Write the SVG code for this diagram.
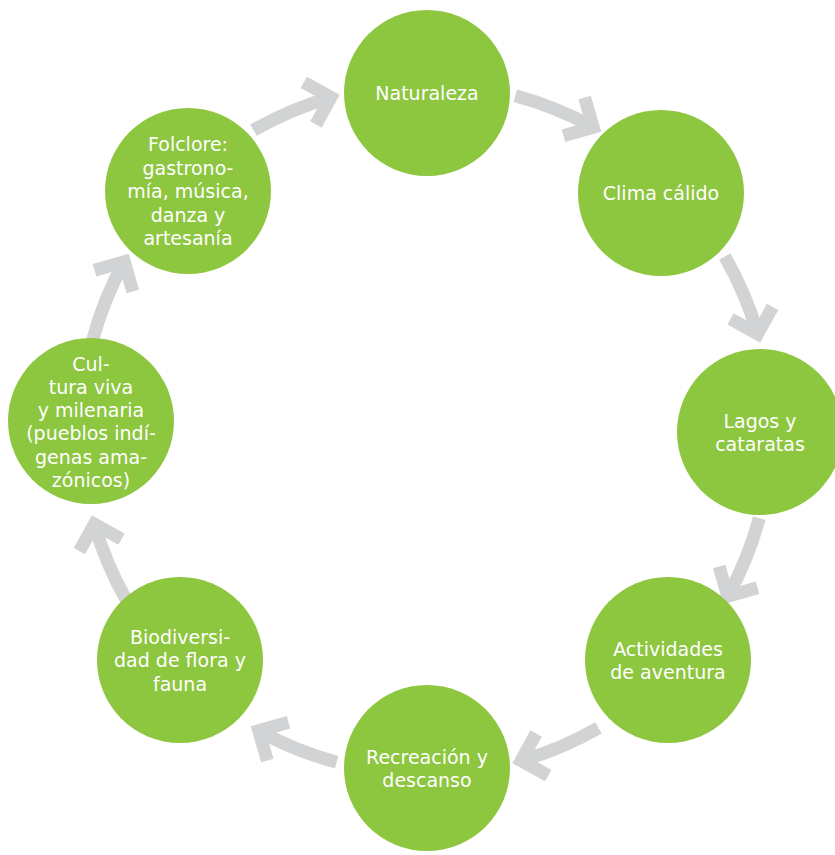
<svg xmlns="http://www.w3.org/2000/svg" width="835" height="855" viewBox="0 0 835 855">
<style>
.node circle{fill:#8DC63F}
.node text{fill:#FFFFFF;font-family:"DejaVu Sans","Liberation Sans",sans-serif;font-size:19px;text-anchor:middle}
</style>
<defs>
<g id="arrow" fill="none" stroke="#D1D3D4" stroke-width="13" stroke-linecap="butt" stroke-linejoin="miter" stroke-miterlimit="10">
<path d="M 253.5 130.2 A 345 345 0 0 1 330.9 97.4"/>
<path d="M 303.8 82.4 L 330.9 97.4 L 315.9 124.5"/>
</g>
</defs>
<rect width="835" height="855" fill="#FFFFFF"/>
<g id="connectors">
<g id="c-folclore-naturaleza"><use href="#arrow"/></g>
<g id="c-naturaleza-clima" transform="rotate(45 426 429)"><use href="#arrow"/></g>
<g id="c-clima-lagos" transform="rotate(90 426 429)"><use href="#arrow"/></g>
<g id="c-lagos-actividades" transform="rotate(135 426 429)"><use href="#arrow"/></g>
<g id="c-actividades-recreacion" transform="rotate(180 426 429)"><use href="#arrow"/></g>
<g id="c-recreacion-biodiversidad" transform="rotate(225 426 429)"><use href="#arrow"/></g>
<g id="c-biodiversidad-cultura" transform="rotate(270 426 429)"><use href="#arrow"/></g>
<g id="c-cultura-folclore" transform="rotate(315 426 429)"><use href="#arrow"/></g>
</g>
<g id="naturaleza" class="node">
<circle cx="427" cy="93" r="83"/>
<text x="427" y="100">Naturaleza</text>
</g>
<g id="clima" class="node">
<circle cx="661" cy="193" r="83"/>
<text x="661" y="200">Clima cálido</text>
</g>
<g id="lagos" class="node">
<circle cx="760" cy="432" r="83"/>
<text x="760" y="427.5">Lagos y</text>
<text x="760" y="451">cataratas</text>
</g>
<g id="actividades" class="node">
<circle cx="668" cy="660" r="83"/>
<text x="668" y="655.5">Actividades</text>
<text x="668" y="679">de aventura</text>
</g>
<g id="recreacion" class="node">
<circle cx="427" cy="768" r="83"/>
<text x="427" y="763.5">Recreación y</text>
<text x="427" y="787">descanso</text>
</g>
<g id="biodiversidad" class="node">
<circle cx="180" cy="660" r="83"/>
<text x="180" y="643.5">Biodiversi-</text>
<text x="180" y="667">dad de flora y</text>
<text x="180" y="690.5">fauna</text>
</g>
<g id="cultura" class="node">
<circle cx="91" cy="421" r="83"/>
<text x="91" y="370.5">Cul-</text>
<text x="91" y="393.8">tura viva</text>
<text x="91" y="417.1">y milenaria</text>
<text x="91" y="440.4">(pueblos indí-</text>
<text x="91" y="463.7">genas ama-</text>
<text x="91" y="487">zónicos)</text>
</g>
<g id="folclore" class="node">
<circle cx="188" cy="191" r="83"/>
<text x="188" y="151">Folclore:</text>
<text x="188" y="174.5">gastrono-</text>
<text x="188" y="198">mía, música,</text>
<text x="188" y="221.5">danza y</text>
<text x="188" y="245">artesanía</text>
</g>
</svg>
